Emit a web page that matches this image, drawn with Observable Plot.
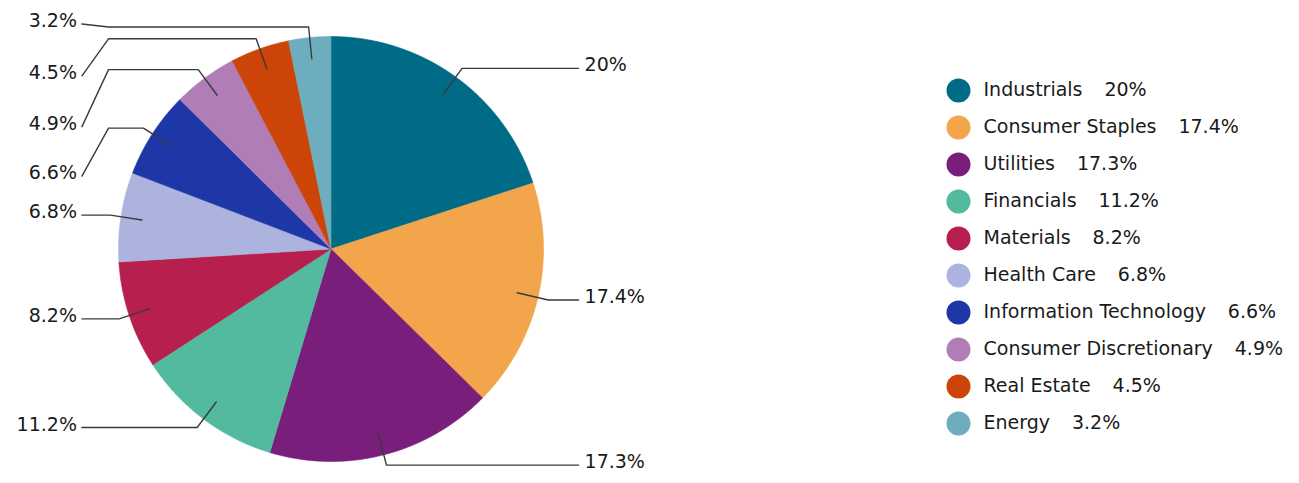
<!DOCTYPE html>
<html>
<head>
<meta charset="utf-8">
<script src="https://cdn.jsdelivr.net/npm/d3@7"></script>
<script src="https://cdn.jsdelivr.net/npm/@observablehq/plot@0.6"></script>
<style>
  html, body { margin: 0; padding: 0; background: #fff; }
  #wrap { display: flex; flex-direction: row; width: 1299px; height: 483px; }
</style>
</head>
<body>
<div id="wrap"></div>
<script>
// ---- data ----
const names = ["Industrials", "Consumer Staples", "Utilities", "Financials", "Materials",
  "Health Care", "Information Technology", "Consumer Discretionary", "Real Estate", "Energy"];
const values = [20, 17.4, 17.3, 11.2, 8.2, 6.8, 6.6, 4.9, 4.5, 3.2];
const labels = ["20%", "17.4%", "17.3%", "11.2%", "8.2%", "6.8%", "6.6%", "4.9%", "4.5%", "3.2%"];
const colors = ["#006b86", "#f2a54a", "#7a1e7c", "#53b99f", "#b71f4e",
  "#abb3de", "#1e37a6", "#b07db7", "#cc4407", "#6eadbd"];

// ---- layout (in pie-radius units) ----
const R_PX = 212.5;                 // radius in pixels
const labelShiftPx = [0, 0, 0, 0, 0, 0, -48, -57, -37, 3]; // vertical label shift (px, + = up)
const innerR = 0.9, elbowR = 1.05;
const rightEnd = 1.165, leftEnd = -1.172, leftBend = -1.047;

const data = names.map((name, i) => ({name, value: values[i], label: labels[i], shift: labelShiftPx[i] / R_PX}));
const arcs = d3.pie().sort(null).value(d => d.value)(data);

// slice polygons
const poly = [];
arcs.forEach(a => {
  const n = Math.max(2, Math.ceil((a.endAngle - a.startAngle) / 0.005));
  poly.push({name: a.data.name, x: 0, y: 0});
  for (let k = 0; k <= n; k++) {
    const t = a.startAngle + (a.endAngle - a.startAngle) * k / n;
    poly.push({name: a.data.name, x: Math.sin(t), y: Math.cos(t)});
  }
  poly.push({name: a.data.name, x: 0, y: 0});
});

// leader lines & label anchors
const leaders = [];
const labelPts = [];
arcs.forEach(a => {
  const m = (a.startAngle + a.endAngle) / 2;
  const sx = Math.sin(m), sy = Math.cos(m);
  const right = sx > 0;
  const ex = elbowR * sx, ey = elbowR * sy;
  const ly = ey + a.data.shift;
  const pts = [[innerR * sx, innerR * sy], [ex, ey]];
  if (right) {
    pts.push([rightEnd, ey]);
  } else {
    pts.push([Math.min(ex, leftBend), ey]);
    pts.push([leftEnd, ly]);
  }
  pts.forEach(p => leaders.push({name: a.data.name, x: p[0], y: p[1]}));
  labelPts.push({name: a.data.name, label: a.data.label, right, x: right ? rightEnd : leftEnd, y: right ? ey : ly});
});

const color = {domain: names, range: colors};

const pie = Plot.plot({
  width: 935,
  height: 483,
  margin: 0,
  style: {fontFamily: "DejaVu Sans", background: "#fff"},
  x: {domain: [-1, 1], range: [118, 543], axis: null},
  y: {domain: [-1, 1], range: [461, 36], axis: null},
  color,
  marks: [
    Plot.line(poly, {x: "x", y: "y", z: "name", fill: "name", stroke: "name", strokeWidth: 0.6, curve: "linear"}),
    Plot.line(leaders, {x: "x", y: "y", z: "name", stroke: "#3a3a3a", strokeWidth: 1.4, curve: "linear"}),
    Plot.text(labelPts.filter(d => d.right), {x: "x", y: "y", text: "label", textAnchor: "start", dx: 6, dy: -3, fontSize: 19, fill: "#1a1a1a"}),
    Plot.text(labelPts.filter(d => !d.right), {x: "x", y: "y", text: "label", textAnchor: "end", dx: -5, dy: -3, fontSize: 19, fill: "#1a1a1a"})
  ]
});

const legend = Plot.plot({
  width: 364,
  height: 483,
  margin: 0,
  style: {fontFamily: "DejaVu Sans", background: "#fff"},
  x: {domain: [0, 1], range: [23, 48], axis: null},
  y: {type: "point", domain: names, range: [87, 425], padding: 0, axis: null},
  color,
  marks: [
    Plot.dot(data, {x: () => 0, y: "name", r: 12, fill: "name", stroke: null}),
    Plot.text(data, {x: () => 1, y: "name", text: d => d.name + "\u00a0\u00a0\u00a0\u2009" + d.label, textAnchor: "start", fontSize: 19, fill: "#1a1a1a", dy: -1})
  ]
});

const wrap = document.getElementById("wrap");
wrap.appendChild(pie);
wrap.appendChild(legend);
</script>
</body>
</html>
